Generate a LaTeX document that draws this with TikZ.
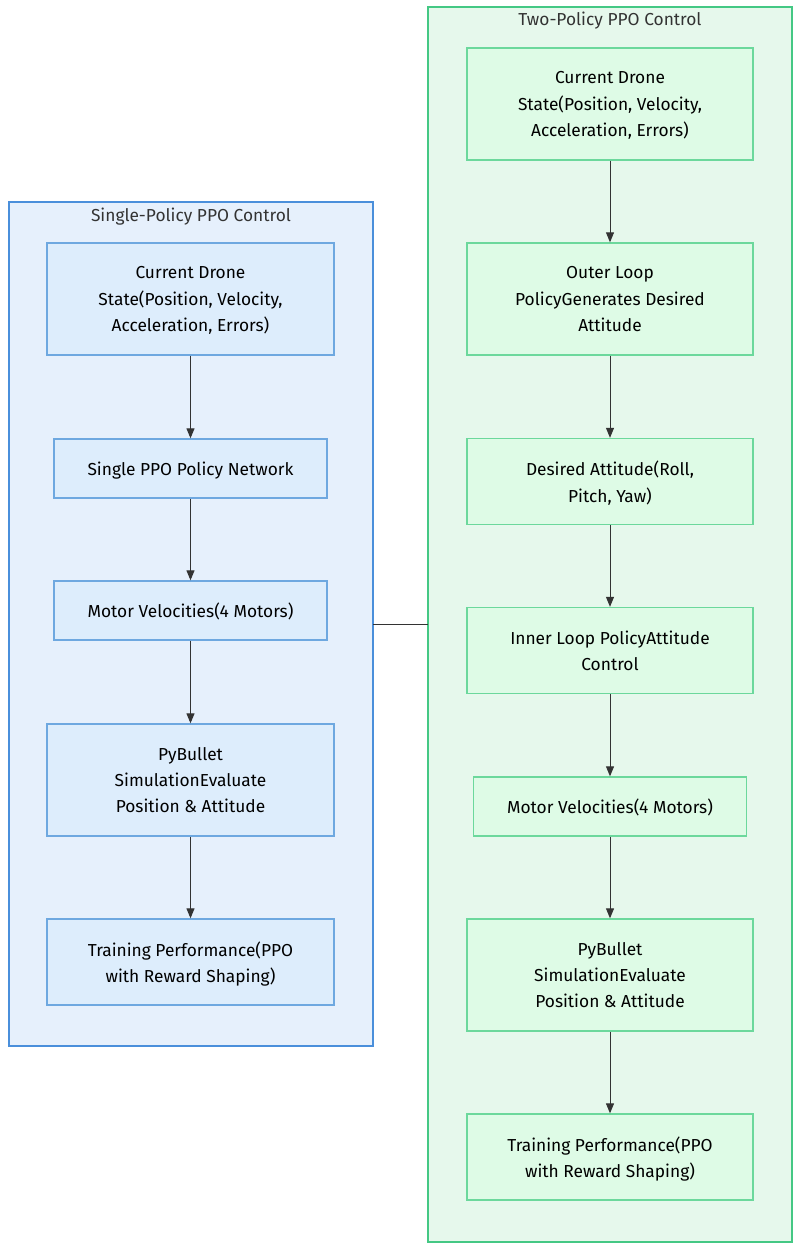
\documentclass[tikz,border=0pt]{standalone}
\usepackage{fontspec}
\setmainfont{Fira Sans}
\usetikzlibrary{arrows.meta}
\definecolor{lclfill}{HTML}{E6F0FC}
\definecolor{lcldraw}{HTML}{4A8FDB}
\definecolor{rclfill}{HTML}{E6F8EC}
\definecolor{rcldraw}{HTML}{44C884}
\definecolor{lnfill}{HTML}{DDEDFC}
\definecolor{lndraw}{HTML}{6EA8E0}
\definecolor{rnfill}{HTML}{DEFBE6}
\definecolor{rndraw}{HTML}{6CD89C}
\definecolor{edge}{HTML}{333333}
\definecolor{ttl}{HTML}{333333}
\tikzset{
  lbox/.style={draw=lndraw, fill=lnfill, line width=1pt, align=center, inner sep=0pt, font=\fontsize{13}{19.8}\selectfont, text=black, text depth=-1pt},
  rbox/.style={draw=rndraw, fill=rnfill, line width=1pt, align=center, inner sep=0pt, font=\fontsize{13}{19.8}\selectfont, text=black, text depth=-1pt},
  flow/.style={draw=edge, line width=0.75pt, -{Triangle[length=7.5pt,width=6pt]}},
  ttlstyle/.style={font=\fontsize{13}{14}\selectfont, text=ttl, inner sep=0pt}
}
\begin{document}
\begin{tikzpicture}[x=0.75pt,y=-0.75pt]
\useasboundingbox (0,0) rectangle (804,1251);
\fill[white] (0,0) rectangle (804,1251);
% clusters
\draw[draw=lcldraw, fill=lclfill, line width=1.5pt] (9,202) rectangle (373,1046);
\node[ttlstyle] (lt) at (191,216.5) {Single-Policy PPO Control};
\draw[draw=rcldraw, fill=rclfill, line width=1.5pt] (428,7) rectangle (792,1242);
\node[ttlstyle] (rt) at (610,20.5) {Two-Policy PPO Control};
% left nodes
\node[lbox, minimum width=287*0.75pt, minimum height=112*0.75pt] (L1) at (190.5,299) {Current Drone\\State(Position, Velocity,\\Acceleration, Errors)};
\node[lbox, minimum width=273*0.75pt, minimum height=59*0.75pt] (L2) at (190.5,468.5) {Single PPO Policy Network};
\node[lbox, minimum width=273*0.75pt, minimum height=59*0.75pt] (L3) at (190.5,610.5) {Motor Velocities(4 Motors)};
\node[lbox, minimum width=287*0.75pt, minimum height=112*0.75pt] (L4) at (190.5,780) {PyBullet\\SimulationEvaluate\\Position \& Attitude};
\node[lbox, minimum width=287*0.75pt, minimum height=86*0.75pt] (L5) at (190.5,962) {Training Performance(PPO\\with Reward Shaping)};
% right nodes
\node[rbox, minimum width=286*0.75pt, minimum height=112*0.75pt] (R1) at (610,104) {Current Drone\\State(Position, Velocity,\\Acceleration, Errors)};
\node[rbox, minimum width=286*0.75pt, minimum height=112*0.75pt] (R2) at (610,299) {Outer Loop\\PolicyGenerates Desired\\Attitude};
\node[rbox, minimum width=286*0.75pt, minimum height=86*0.75pt] (R3) at (610,481.5) {Desired Attitude(Roll,\\Pitch, Yaw)};
\node[rbox, minimum width=286*0.75pt, minimum height=86*0.75pt] (R4) at (610,650.5) {Inner Loop PolicyAttitude\\Control};
\node[rbox, minimum width=273*0.75pt, minimum height=59*0.75pt] (R5) at (610,806.5) {Motor Velocities(4 Motors)};
\node[rbox, minimum width=286*0.75pt, minimum height=112*0.75pt] (R6) at (610,975) {PyBullet\\SimulationEvaluate\\Position \& Attitude};
\node[rbox, minimum width=286*0.75pt, minimum height=86*0.75pt] (R7) at (610,1157) {Training Performance(PPO\\with Reward Shaping)};
% flows
\draw[flow] (L1) -- (L2);
\draw[flow] (L2) -- (L3);
\draw[flow] (L3) -- (L4);
\draw[flow] (L4) -- (L5);
\draw[flow] (R1) -- (R2);
\draw[flow] (R2) -- (R3);
\draw[flow] (R3) -- (R4);
\draw[flow] (R4) -- (R5);
\draw[flow] (R5) -- (R6);
\draw[flow] (R6) -- (R7);
% link between clusters
\coordinate (la) at (373,624);
\coordinate (ra) at (428,624);
\draw[draw=edge, line width=0.75pt] (la) -- (ra);
\end{tikzpicture}
\end{document}
